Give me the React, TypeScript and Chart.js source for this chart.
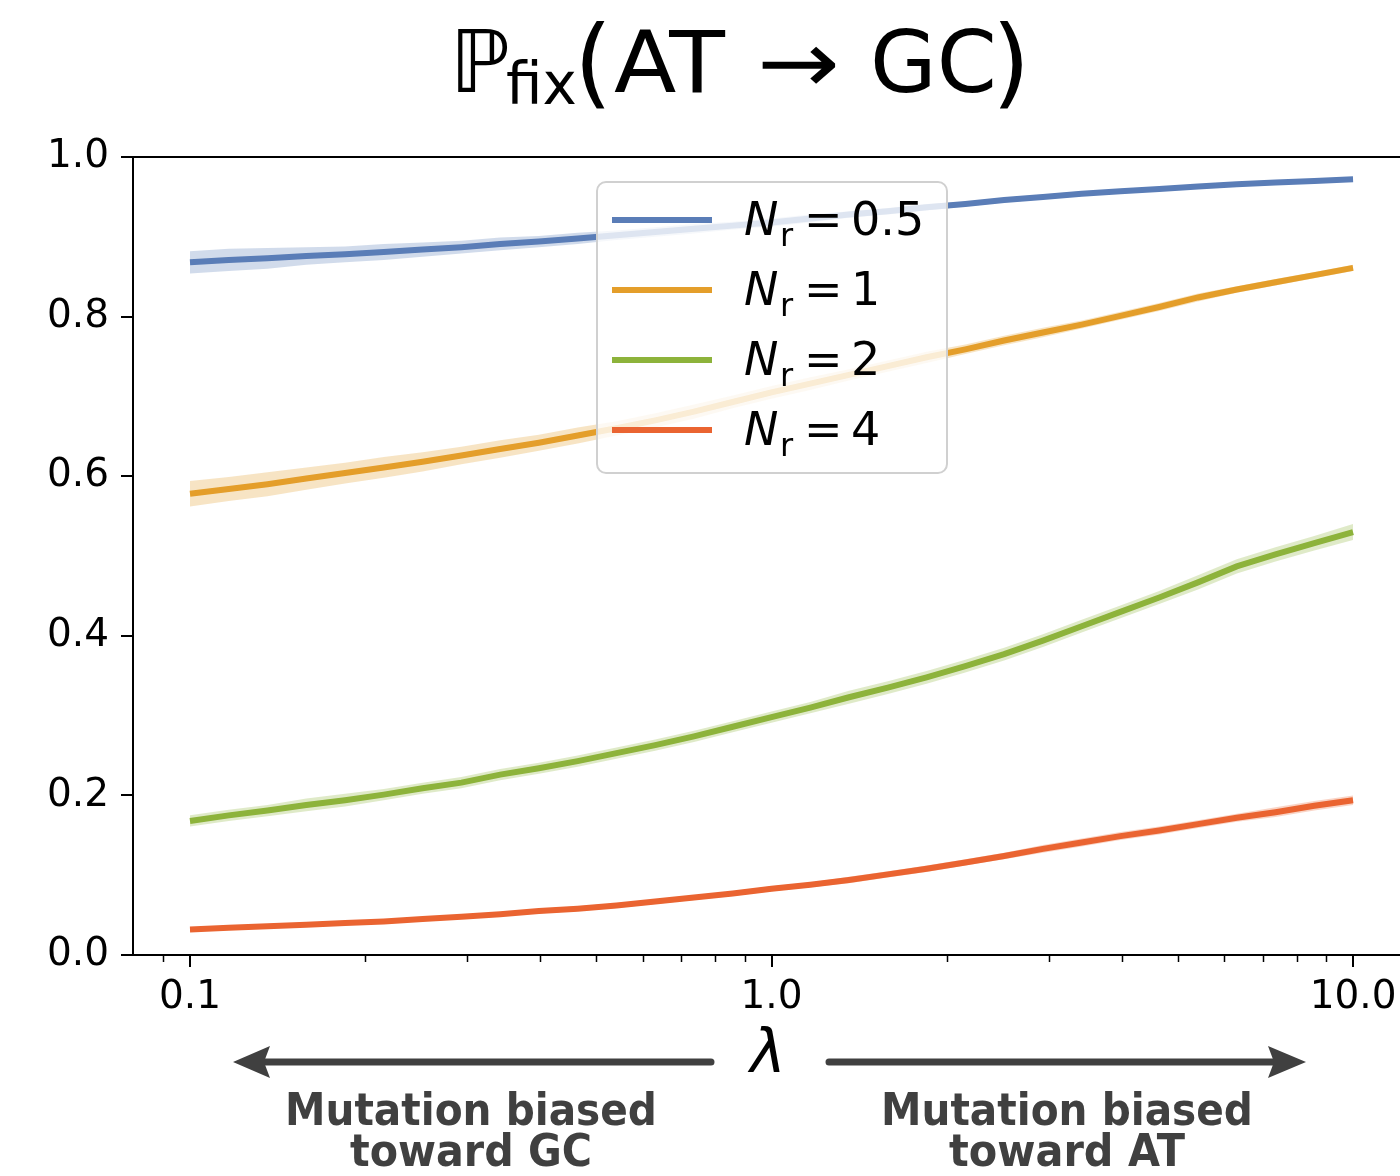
import React, { useEffect, useRef } from "react";
import { Chart, registerables } from "chart.js";
Chart.register(...registerables);

// ---- data ----
const lambdas = [
  0.1, 0.1166, 0.1359, 0.1585, 0.1848, 0.2154, 0.2512, 0.2929, 0.3415, 0.3981,
  0.4642, 0.5412, 0.631, 0.7356, 0.8577, 1.0, 1.166, 1.359, 1.585, 1.848,
  2.154, 2.512, 2.929, 3.415, 3.981, 4.642, 5.412, 6.31, 7.356, 8.577, 10.0,
];
const nr05 = [
  0.868, 0.871, 0.873, 0.876, 0.878, 0.881, 0.884, 0.887, 0.891, 0.894,
  0.898, 0.902, 0.906, 0.91, 0.914, 0.918, 0.923, 0.928, 0.932, 0.937,
  0.941, 0.946, 0.95, 0.954, 0.957, 0.96, 0.963, 0.966, 0.968, 0.97, 0.972,
];
const nr05Err = [
  0.014, 0.014, 0.013, 0.011, 0.01, 0.01, 0.009, 0.008, 0.008, 0.007,
  0.007, 0.006, 0.006, 0.006, 0.005, 0.005, 0.005, 0.004, 0.004, 0.004,
  0.003, 0.003, 0.003, 0.003, 0.002, 0.002, 0.002, 0.002, 0.002, 0.002, 0.002,
];
const nr1 = [
  0.578, 0.584, 0.59, 0.597, 0.604, 0.611, 0.618, 0.626, 0.634, 0.642,
  0.651, 0.66, 0.67, 0.681, 0.693, 0.705, 0.716, 0.727, 0.738, 0.749,
  0.759, 0.77, 0.78, 0.79, 0.801, 0.812, 0.824, 0.834, 0.843, 0.852, 0.861,
];
const nr1Err = [
  0.016, 0.015, 0.015, 0.014, 0.013, 0.013, 0.012, 0.011, 0.011, 0.01,
  0.01, 0.009, 0.009, 0.009, 0.008, 0.008, 0.008, 0.007, 0.007, 0.007,
  0.006, 0.006, 0.006, 0.005, 0.005, 0.005, 0.005, 0.004, 0.004, 0.004, 0.004,
];
const nr2 = [
  0.168, 0.175, 0.181, 0.188, 0.194, 0.201, 0.209, 0.216, 0.226, 0.234,
  0.243, 0.253, 0.263, 0.274, 0.286, 0.298, 0.31, 0.323, 0.335, 0.348,
  0.362, 0.377, 0.394, 0.412, 0.43, 0.448, 0.467, 0.487, 0.502, 0.516, 0.53,
];
const nr2Err = [
  0.007, 0.007, 0.007, 0.008, 0.008, 0.007, 0.007, 0.007, 0.007, 0.007,
  0.007, 0.007, 0.007, 0.007, 0.007, 0.007, 0.007, 0.008, 0.008, 0.008,
  0.008, 0.008, 0.008, 0.008, 0.008, 0.008, 0.009, 0.009, 0.009, 0.009, 0.01,
];
const nr4 = [
  0.032, 0.034, 0.036, 0.038, 0.04, 0.042, 0.045, 0.048, 0.051, 0.055,
  0.058, 0.062, 0.067, 0.072, 0.077, 0.083, 0.088, 0.094, 0.101, 0.108,
  0.116, 0.124, 0.133, 0.141, 0.149, 0.156, 0.164, 0.172, 0.179, 0.187, 0.194,
];
const nr4Err = [
  0.002, 0.002, 0.002, 0.002, 0.002, 0.002, 0.002, 0.002, 0.002, 0.003,
  0.003, 0.003, 0.003, 0.003, 0.003, 0.003, 0.003, 0.004, 0.004, 0.004,
  0.004, 0.004, 0.005, 0.005, 0.005, 0.005, 0.005, 0.005, 0.006, 0.006, 0.006,
];

const seriesValues = [nr05, nr1, nr2, nr4];
const seriesErrors = [nr05Err, nr1Err, nr2Err, nr4Err];
const seriesLabels = ["0.5", "1", "2", "4"];
const lineColors = ["#5a7db7", "#e49e2a", "#8db33b", "#ea6431"];
const bandColors = [
  "rgba(90,125,183,0.28)",
  "rgba(228,158,42,0.28)",
  "rgba(141,179,59,0.28)",
  "rgba(234,100,49,0.28)",
];
const yTicks = [0, 0.2, 0.4, 0.6, 0.8, 1.0];
const xMajorTicks = [0.1, 1, 10];
const xMinorTicks = [0.09, 0.2, 0.3, 0.4, 0.5, 0.6, 0.7, 0.8, 0.9, 2, 3, 4, 5, 6, 7, 8, 9];
const xRange = [0.0798, 14.11];
const yRange = [0, 1];
const leftAnnotation = ["Mutation biased", "toward GC"];
const rightAnnotation = ["Mutation biased", "toward AT"];

const W = 1520;
const H = 1176;
const FONT = '"DejaVu Sans", sans-serif';

const decorPlugin = {
  id: "decor",
  afterDraw(chart: any) {
    const ctx = chart.ctx as CanvasRenderingContext2D;
    const a = chart.chartArea;
    const xs = chart.scales.x;
    const ys = chart.scales.y;
    ctx.save();

    // frame
    ctx.strokeStyle = "#000";
    ctx.lineWidth = 2;
    ctx.strokeRect(a.left, a.top, a.right - a.left, a.bottom - a.top);

    // ticks
    ctx.beginPath();
    for (const v of yTicks) {
      const y = Math.round(ys.getPixelForValue(v));
      ctx.moveTo(a.left, y);
      ctx.lineTo(a.left - 12, y);
    }
    for (const v of xMajorTicks) {
      const x = Math.round(xs.getPixelForValue(v));
      ctx.moveTo(x, a.bottom);
      ctx.lineTo(x, a.bottom + 12);
    }
    ctx.stroke();
    ctx.lineWidth = 1.5;
    ctx.beginPath();
    for (const v of xMinorTicks) {
      const x = Math.round(xs.getPixelForValue(v)) + 0.5;
      ctx.moveTo(x, a.bottom);
      ctx.lineTo(x, a.bottom + 7);
    }
    ctx.stroke();

    // title
    ctx.fillStyle = "#000";
    ctx.textAlign = "left";
    ctx.textBaseline = "alphabetic";
    ctx.font = `86px ${FONT}`;
    ctx.fillText("\u2119", 450, 92);
    ctx.font = `58px ${FONT}`;
    ctx.fillText("fix", 506, 104);
    ctx.font = `98px ${FONT}`;
    ctx.fillText("(", 574, 96);
    ctx.font = `86px ${FONT}`;
    ctx.save();
    ctx.translate(614, 92);
    ctx.scale(1.06, 1);
    ctx.fillText("AT", 0, 0);
    ctx.restore();
    ctx.save();
    ctx.translate(757, 92);
    ctx.scale(1.15, 1);
    ctx.fillText("\u2192", 0, 0);
    ctx.restore();
    ctx.fillText("GC", 870, 92);
    ctx.font = `98px ${FONT}`;
    ctx.fillText(")", 992, 96);

    // legend
    const lx = 597, ly = 182, lw = 350, lh = 291;
    ctx.beginPath();
    (ctx as any).roundRect(lx, ly, lw, lh, 9);
    ctx.fillStyle = "rgba(255,255,255,0.8)";
    ctx.fill();
    ctx.strokeStyle = "#d0d0d0";
    ctx.lineWidth = 2;
    ctx.stroke();
    for (let i = 0; i < seriesLabels.length; i++) {
      const yl = 220 + 70 * i;
      ctx.strokeStyle = lineColors[i];
      ctx.lineWidth = 6;
      ctx.beginPath();
      ctx.moveTo(612, yl);
      ctx.lineTo(712, yl);
      ctx.stroke();
      const base = 235 + 70 * i;
      ctx.fillStyle = "#000";
      ctx.font = `oblique 46px ${FONT}`;
      ctx.fillText("N", 744, base);
      ctx.font = `32px ${FONT}`;
      ctx.fillText("r", 780, base + 11);
      ctx.font = `46px ${FONT}`;
      ctx.fillText("=", 804, base);
      ctx.fillText(seriesLabels[i], 851, base);
    }

    // lambda + arrows
    const grey = "#404040";
    ctx.fillStyle = "#000";
    ctx.font = `oblique 60px ${FONT}`;
    ctx.textAlign = "center";
    ctx.fillText("\u03bb", 768, 1072);
    ctx.strokeStyle = grey;
    ctx.fillStyle = grey;
    ctx.lineWidth = 7;
    ctx.lineCap = "round";
    ctx.beginPath();
    ctx.moveTo(711, 1062);
    ctx.lineTo(262, 1062);
    ctx.moveTo(829, 1062);
    ctx.lineTo(1275, 1062);
    ctx.stroke();
    ctx.beginPath();
    ctx.moveTo(233, 1062);
    ctx.lineTo(270, 1046);
    ctx.lineTo(264, 1062);
    ctx.lineTo(270, 1078);
    ctx.closePath();
    ctx.fill();
    ctx.beginPath();
    ctx.moveTo(1306, 1062);
    ctx.lineTo(1268, 1046);
    ctx.lineTo(1274, 1062);
    ctx.lineTo(1268, 1078);
    ctx.closePath();
    ctx.fill();

    // annotations
    const drawFit = (text: string, cx: number, base: number, target: number) => {
      ctx.font = `bold 44px ${FONT}`;
      const m = ctx.measureText(text);
      const inkW = m.actualBoundingBoxLeft + m.actualBoundingBoxRight;
      const s = Math.min(1, target / inkW);
      ctx.save();
      ctx.translate(cx, base);
      ctx.scale(s, 1);
      ctx.textAlign = "center";
      ctx.fillText(text, 0, 0);
      ctx.restore();
    };
    ctx.fillStyle = grey;
    drawFit(leftAnnotation[0], 471, 1125, 365);
    drawFit(leftAnnotation[1], 471, 1166, 240);
    drawFit(rightAnnotation[0], 1067, 1125, 365);
    drawFit(rightAnnotation[1], 1067, 1166, 236);

    ctx.restore();
  },
};

export default function App() {
  const ref = useRef<HTMLCanvasElement>(null);
  useEffect(() => {
    if (!ref.current) return;
    const datasets: any[] = [];
    seriesValues.forEach((vals, i) => {
      const err = seriesErrors[i];
      datasets.push({
        data: lambdas.map((x, k) => ({ x, y: vals[k] - err[k] })),
        borderWidth: 0,
        pointRadius: 0,
        fill: false,
        order: 2,
      });
      datasets.push({
        data: lambdas.map((x, k) => ({ x, y: vals[k] + err[k] })),
        borderWidth: 0,
        pointRadius: 0,
        fill: "-1",
        backgroundColor: bandColors[i],
        order: 2,
      });
      datasets.push({
        data: lambdas.map((x, k) => ({ x, y: vals[k] })),
        borderColor: lineColors[i],
        borderWidth: 6,
        pointRadius: 0,
        fill: false,
        borderCapStyle: "butt",
        order: 1,
      });
    });
    const tickFont = { family: FONT, size: 39 };
    const chart = new Chart(ref.current, {
      type: "line",
      data: { datasets },
      plugins: [decorPlugin],
      options: {
        responsive: false,
        animation: false,
        events: [],
        layout: { padding: { left: 0, top: 157, right: W - 1440, bottom: 0 } },
        plugins: {
          legend: { display: false },
          tooltip: { enabled: false },
          title: { display: false },
        },
        scales: {
          x: {
            type: "logarithmic",
            min: xRange[0],
            max: xRange[1],
            grid: { display: false, tickLength: 12 },
            border: { display: false },
            ticks: {
              font: tickFont,
              color: "#000",
              padding: 7,
              autoSkip: false,
              maxRotation: 0,
              callback: (v: any) => Number(v).toFixed(1),
            },
            afterBuildTicks: (s: any) => {
              s.ticks = xMajorTicks.map((v) => ({ value: v }));
            },
            afterFit: (s: any) => {
              s.height = H - 955;
            },
          },
          y: {
            type: "linear",
            min: yRange[0],
            max: yRange[1],
            grid: { display: false, tickLength: 12 },
            border: { display: false },
            ticks: {
              font: tickFont,
              color: "#000",
              padding: 12,
              callback: (v: any) => Number(v).toFixed(1),
            },
            afterBuildTicks: (s: any) => {
              s.ticks = yTicks.map((v) => ({ value: v }));
            },
            afterFit: (s: any) => {
              s.width = 133;
            },
          },
        },
      } as any,
    });
    return () => chart.destroy();
  }, []);
  return (
    <div
      style={{
        position: "absolute",
        left: 0,
        top: 0,
        width: 1400,
        height: H,
        overflow: "hidden",
        background: "#fff",
      }}
    >
      <canvas ref={ref} width={W} height={H} style={{ display: "block" }} />
    </div>
  );
}
